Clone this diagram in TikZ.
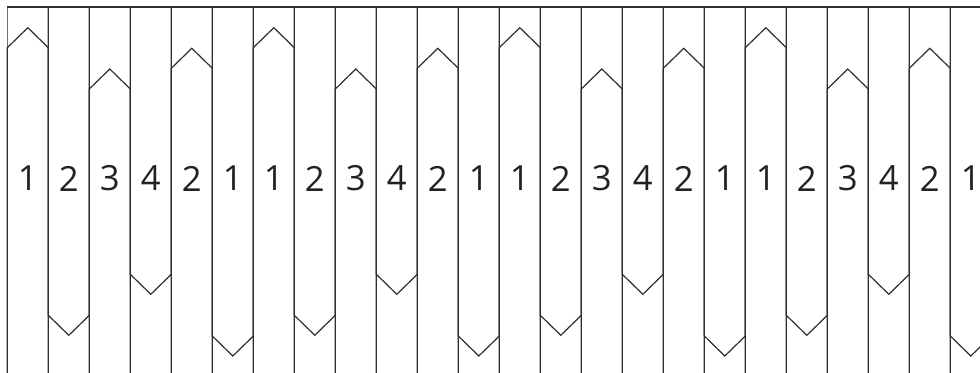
\documentclass[tikz,border=0pt]{standalone}
\usepackage{fontspec}
\setmainfont{Open Sans}
\definecolor{gridgray}{HTML}{6E6E6E}
\definecolor{stripdark}{HTML}{2E2E2E}
\definecolor{textdark}{HTML}{222222}
\begin{document}
\begin{tikzpicture}[x=0.75pt,y=-0.75pt,
  gridline/.style={draw=gridgray,line width=0.9pt},
  stripline/.style={draw=stripdark,line width=0.9pt,line join=miter},
  lbl/.style={font=\fontsize{26}{30}\selectfont,text=textdark,inner sep=0pt}]
\useasboundingbox (0,0) rectangle (980,373);
\clip (0,0) rectangle (980,373);
\foreach \i in {0,...,24} {
  \draw[gridline] ({7.3+41*\i},7) -- ({7.3+41*\i},374);
}
\draw[stripline] (7.3,7) -- (990,7);
\foreach \g in {0,...,3} {
  \foreach \k/\e/\ys/\d/\lab in {0/374/47.7/-20/1, 1/7/315.3/20/2, 2/374/89/-20/3, 3/7/274.3/20/4, 4/374/68.3/-20/2, 5/7/336/20/1} {
    \pgfmathsetmacro\x{7.3+246*\g+41*\k}
    \pgfmathsetmacro\xm{\x+20.5}
    \pgfmathsetmacro\xr{\x+41}
    \pgfmathsetmacro\ya{\ys+\d}
    \draw[stripline] (\x,\e) -- (\x,\ys) -- (\xm,\ya) -- (\xr,\ys) -- (\xr,\e);
    \node[lbl] (lab\g-\k) at (\xm,178.5) {\lab};
  }
}
\end{tikzpicture}
\end{document}
